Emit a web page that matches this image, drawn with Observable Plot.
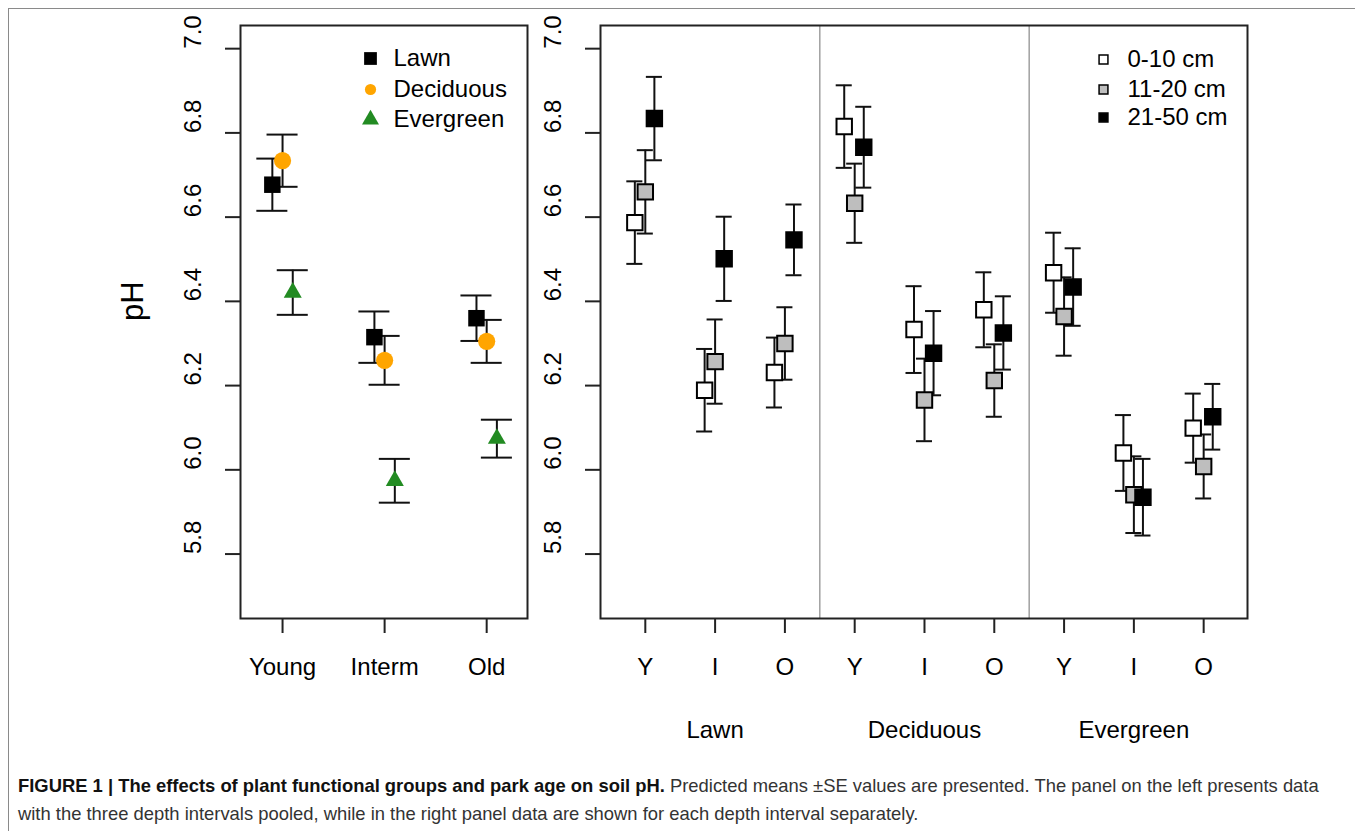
<!DOCTYPE html>
<html><head><meta charset="utf-8">
<script src="https://cdn.jsdelivr.net/npm/d3@7"></script>
<script src="https://cdn.jsdelivr.net/npm/@observablehq/plot@0.6"></script>
<style>
html,body{margin:0;padding:0;background:#fff;}
#wrap{position:relative;width:1355px;height:831px;overflow:hidden;background:#fff;}
#border{position:absolute;left:8px;top:8px;width:1400px;height:900px;border-left:1px solid #8a8a8a;border-top:1px solid #8a8a8a;}
#left{position:absolute;left:0;top:0;}
#right{position:absolute;left:540px;top:0;}
#caption{position:absolute;left:18px;top:772px;font-family:"Liberation Sans Narrow","Arial Narrow",sans-serif;font-size:18.4px;line-height:28px;color:#333;white-space:nowrap;}
#caption b{color:#111;}
</style></head><body>
<div id="wrap"><div id="border"></div><div id="left"></div><div id="right"></div>
<div id="caption"><b>FIGURE 1 | The effects of plant functional groups and park age on soil pH.</b> Predicted means ±SE values are presented. The panel on the left presents data<br>with the three depth intervals pooled, while in the right panel data are shown for each depth interval separately.</div></div>
<script>
// ---- data ----
const ageCategories = ["Young", "Interm", "Old"];
const ageShort = ["Y", "I", "O"];
const vegGroups = ["Lawn", "Deciduous", "Evergreen"];
const depthLabels = ["0-10 cm", "11-20 cm", "21-50 cm"];
const yTicks = [5.8, 6.0, 6.2, 6.4, 6.6, 6.8, 7.0];

// left panel (depths pooled): means and SE by Young, Interm, Old
const lawnMean = [6.677, 6.315, 6.360];
const lawnSE = [0.062, 0.061, 0.054];
const deciduousMean = [6.734, 6.260, 6.305];
const deciduousSE = [0.062, 0.058, 0.051];
const evergreenMean = [6.421, 5.974, 6.074];
const evergreenSE = [0.053, 0.052, 0.045];

// right panel: order Lawn Y,I,O, Deciduous Y,I,O, Evergreen Y,I,O
const depth0Mean = [6.587, 6.189, 6.231, 6.815, 6.333, 6.380, 6.468, 6.040, 6.099];
const depth0SE = [0.098, 0.098, 0.083, 0.098, 0.103, 0.089, 0.095, 0.090, 0.082];
const depth1Mean = [6.660, 6.257, 6.300, 6.633, 6.166, 6.212, 6.364, 5.941, 6.008];
const depth1SE = [0.099, 0.100, 0.086, 0.094, 0.098, 0.086, 0.093, 0.091, 0.076];
const depth2Mean = [6.834, 6.501, 6.546, 6.766, 6.277, 6.325, 6.434, 5.935, 6.126];
const depth2SE = [0.099, 0.100, 0.084, 0.096, 0.100, 0.087, 0.092, 0.091, 0.078];

// ---- layout / style constants ----
const FONT = "'Liberation Sans', Arial, Helvetica, sans-serif";
const yDomain = [5.647, 7.055];
const leftOffsets = [-0.1, 0, 0.1];
const depthOffsets = [-0.15, 0, 0.13];
const leftCapHalf = 0.152;
const rightCapHalf = 0.115;
const vegStyle = [
  {symbol: "square", r: 9.3, fill: "#000000"},
  {symbol: "circle", r: 8.6, fill: "#FFA500"},
  {symbol: "triangle", r: 6.7, fill: "#228B22"}
];
const vegLegendStyle = [
  {symbol: "square", r: 7.2, fill: "#000000"},
  {symbol: "circle", r: 5.6, fill: "#FFA500"},
  {symbol: "triangle", r: 6.3, fill: "#228B22"}
];
const depthFill = ["#FFFFFF", "#BEBEBE", "#000000"];

const leftMeans = [lawnMean, deciduousMean, evergreenMean];
const leftSEs = [lawnSE, deciduousSE, evergreenSE];
const leftRows = [];
vegGroups.forEach((g, gi) => ageCategories.forEach((a, ai) => {
  leftRows.push({gi, x: ai + 1 + leftOffsets[gi], mean: leftMeans[gi][ai], se: leftSEs[gi][ai]});
}));

const rightMeans = [depth0Mean, depth1Mean, depth2Mean];
const rightSEs = [depth0SE, depth1SE, depth2SE];
const rightRows = [];
depthLabels.forEach((dl, di) => rightMeans[di].forEach((m, k) => {
  rightRows.push({di, x: k + 1 + depthOffsets[di], mean: m, se: rightSEs[di][k]});
}));

const axisStroke = "#222";
const barStroke = "#111";

function errorBars(rows, cap) {
  return [
    Plot.ruleX(rows, {x: "x", y1: d => d.mean - d.se, y2: d => d.mean + d.se, stroke: barStroke, strokeWidth: 2}),
    Plot.ruleY(rows, {y: d => d.mean - d.se, x1: d => d.x - cap, x2: d => d.x + cap, stroke: barStroke, strokeWidth: 2}),
    Plot.ruleY(rows, {y: d => d.mean + d.se, x1: d => d.x - cap, x2: d => d.x + cap, stroke: barStroke, strokeWidth: 2})
  ];
}

function yAxisMarks() {
  return [
    Plot.axisY(yTicks, {tickSize: 15, strokeWidth: 2, stroke: axisStroke, tickFormat: () => "", label: null}),
    Plot.text(yTicks, {y: d => d, text: d => d.toFixed(1), frameAnchor: "left", lineAnchor: "middle", dx: -47, rotate: -90, fontSize: 24, fill: "#000"})
  ];
}

// left legend
const leftLegend = [];
vegGroups.forEach((g, i) => {
  const dy = [33, 64, 94][i];
  leftLegend.push(Plot.dot([g], {frameAnchor: "top-left", dx: 130, dy, ...vegLegendStyle[i]}));
  leftLegend.push(Plot.text([g], {frameAnchor: "top-left", dx: 153, dy, text: d => d, textAnchor: "start", lineAnchor: "middle", fontSize: 24, fill: "#000"}));
});

const leftPlot = Plot.plot({
  width: 540, height: 750,
  marginLeft: 240, marginRight: 13, marginTop: 25, marginBottom: 132,
  x: {domain: [0.588, 3.40], label: null},
  y: {domain: yDomain, label: null},
  style: {fontFamily: FONT, fontSize: "24px", color: "#000", background: "transparent", overflow: "visible"},
  marks: [
    ...yAxisMarks(),
    Plot.axisX([1, 2, 3], {tickSize: 15, strokeWidth: 2, stroke: axisStroke, tickFormat: () => "", label: null}),
    Plot.text(ageCategories, {x: (d, i) => i + 1, text: d => d, frameAnchor: "bottom", lineAnchor: "middle", dy: 49, fontSize: 24, fill: "#000"}),
    Plot.text(["pH"], {frameAnchor: "left", lineAnchor: "middle", dx: -107, dy: -1, rotate: -90, fontSize: 31, text: d => d, fill: "#000"}),
    ...errorBars(leftRows, leftCapHalf),
    ...vegGroups.map((g, gi) => Plot.dot(leftRows.filter(d => d.gi === gi), {x: "x", y: "mean", ...vegStyle[gi]})),
    Plot.frame({stroke: axisStroke, strokeWidth: 2}),
    ...leftLegend
  ]
});
document.getElementById("left").appendChild(leftPlot);

// right legend
const rightLegend = [];
depthLabels.forEach((lab, i) => {
  const dy = [34, 64, 92][i];
  rightLegend.push(Plot.dot([lab], {frameAnchor: "top-left", dx: 503, dy, symbol: "square", r: 5, fill: depthFill[i], stroke: "#000", strokeWidth: 1.5}));
  rightLegend.push(Plot.text([lab], {frameAnchor: "top-left", dx: 527, dy, text: d => d, textAnchor: "start", lineAnchor: "middle", fontSize: 24, fill: "#000"}));
});

const rightTickPos = d3.range(1, 10);
const rightPlot = Plot.plot({
  width: 815, height: 750,
  marginLeft: 60, marginRight: 108, marginTop: 25, marginBottom: 132,
  x: {domain: [0.358, 9.628], label: null},
  y: {domain: yDomain, label: null},
  style: {fontFamily: FONT, fontSize: "24px", color: "#000", background: "transparent", overflow: "visible"},
  marks: [
    Plot.ruleX([3.5, 6.5], {stroke: "#a0a0a0", strokeWidth: 1.5}),
    ...yAxisMarks(),
    Plot.axisX(rightTickPos, {tickSize: 15, strokeWidth: 2, stroke: axisStroke, tickFormat: () => "", label: null}),
    Plot.text(rightTickPos, {x: d => d, text: d => ageShort[(d - 1) % 3], frameAnchor: "bottom", lineAnchor: "middle", dy: 49, fontSize: 24, fill: "#000"}),
    Plot.text(vegGroups, {x: (d, i) => i * 3 + 2, text: d => d, frameAnchor: "bottom", lineAnchor: "middle", dy: 112, fontSize: 24, fill: "#000"}),
    ...errorBars(rightRows, rightCapHalf),
    ...depthLabels.map((lab, di) => Plot.dot(rightRows.filter(d => d.di === di), {x: "x", y: "mean", symbol: "square", r: 8.7, fill: depthFill[di], stroke: "#000", strokeWidth: 2})),
    Plot.frame({stroke: axisStroke, strokeWidth: 2}),
    ...rightLegend
  ]
});
document.getElementById("right").appendChild(rightPlot);
</script>
</body></html>
